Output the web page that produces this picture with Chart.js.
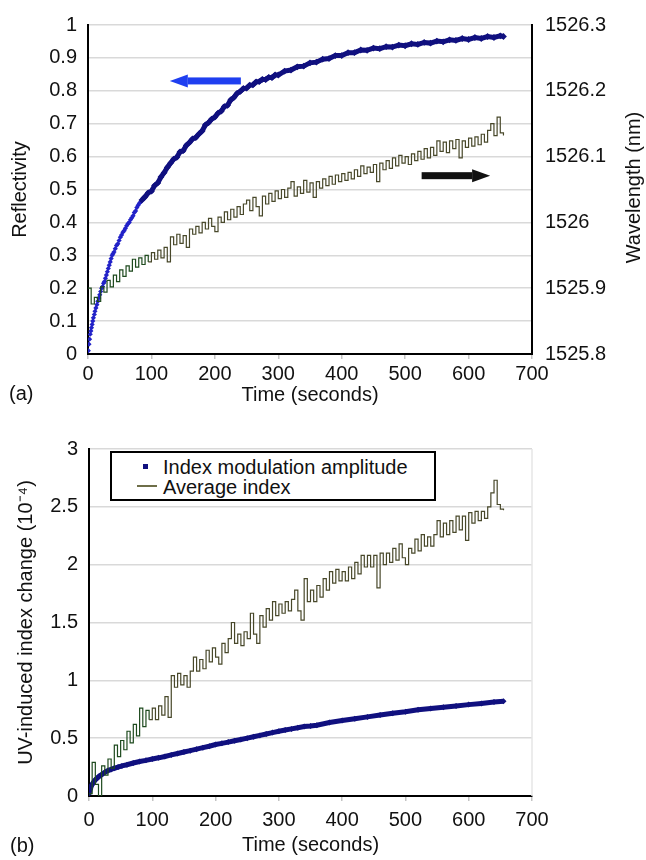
<!DOCTYPE html>
<html lang="en">
<head>
  <meta charset="UTF-8" />
  <title>Reflectivity and UV-induced index change</title>
  <script src="https://cdn.jsdelivr.net/npm/chart.js"></script>
  <style>
    body {
      margin: 0;
      background: #fff;
      font-family: 'Liberation Sans', Arial, sans-serif;
      color: #111;
    }
    .page {
      position: relative;
      width: 646px;
      height: 860px;
    }
    canvas {
      position: absolute;
      left: 0;
    }
    #chartA { top: 0; }
    #chartB { top: 410px; }
    .panel-label {
      position: absolute;
      font-size: 20px;
      line-height: 24px;
    }
    .legend {
      position: absolute;
      left: 110px;
      top: 451px;
      width: 322px;
      height: 46px;
      border: 2px solid #000;
      background: #fff;
    }
    .legend-item {
      position: absolute;
      left: 51px;
      font-size: 20px;
      line-height: 24px;
      white-space: nowrap;
    }
    .legend-mark {
      position: absolute;
    }
  </style>
</head>
<body>
  <div class="page">
    <canvas id="chartA" width="646" height="410"></canvas>
    <canvas id="chartB" width="646" height="450"></canvas>
    <div class="panel-label" style="left:9px; top:381px;">(a)</div>
    <div class="panel-label" style="left:10px; top:833px;">(b)</div>
    <div class="legend" id="legendB"></div>
  </div>

  <script>
    // --- data ---
    const timeTicks = [0, 100, 200, 300, 400, 500, 600, 700];
    const reflTicks = [0, 0.1, 0.2, 0.3, 0.4, 0.5, 0.6, 0.7, 0.8, 0.9, 1];
    const waveTicks = [1525.8, 1525.9, 1526, 1526.1, 1526.2, 1526.3];
    const indexTicks = [0, 0.5, 1, 1.5, 2, 2.5, 3];

    // (a) reflectivity, early part shows separate markers
    const tReflDots = [0.5, 1.5, 2.5, 3.5, 4.5, 5.5, 6.5, 7.5, 8.5, 10, 11, 12.5, 14, 15.5, 17, 18.5, 20, 21.5, 23, 24.5,
      26, 27.5, 29, 30.5, 32, 33.5, 35, 36.5, 38, 39.5, 41, 43, 45, 47, 49, 51, 53, 55, 57, 59,
      61, 63, 65, 67, 69, 71, 73, 75, 77, 79, 81, 83, 85, 87];
    const reflDots = [0.01, 0.03, 0.045, 0.06, 0.07, 0.08, 0.09, 0.1, 0.11, 0.12, 0.13, 0.14, 0.15, 0.16, 0.17, 0.18, 0.19, 0.2, 0.205, 0.215,
      0.22, 0.23, 0.24, 0.25, 0.26, 0.27, 0.28, 0.29, 0.3, 0.305, 0.31, 0.32, 0.33, 0.335, 0.345, 0.355, 0.362, 0.37, 0.375, 0.382,
      0.39, 0.396, 0.4, 0.408, 0.414, 0.42, 0.43, 0.435, 0.445, 0.452, 0.458, 0.462, 0.468, 0.473];

    // (a) reflectivity, later part merges into a thick band
    const tRefl = [85, 90, 95, 100, 105, 110, 115, 120, 125, 130, 135, 140, 145, 150, 155, 160, 165, 170, 175, 180,
      185, 190, 195, 200, 205, 210, 215, 220, 225, 230, 235, 240, 245, 250, 255, 260, 265, 270, 275, 280,
      285, 290, 295, 300, 310, 320, 330, 340, 350, 360, 370, 380, 390, 400, 410, 420, 430, 440, 450, 460,
      470, 480, 490, 500, 510, 520, 530, 540, 550, 560, 570, 580, 590, 600, 610, 620, 630, 640, 650, 655];
    const refl = [0.468, 0.478, 0.49, 0.495, 0.512, 0.52, 0.538, 0.551, 0.567, 0.58, 0.592, 0.598, 0.614, 0.618, 0.634, 0.643, 0.654, 0.658, 0.669, 0.678,
      0.696, 0.703, 0.714, 0.72, 0.732, 0.738, 0.752, 0.756, 0.772, 0.78, 0.792, 0.798, 0.807, 0.808, 0.817, 0.818, 0.827, 0.828, 0.835, 0.834,
      0.841, 0.84, 0.848, 0.848, 0.86, 0.863, 0.873, 0.875, 0.885, 0.887, 0.896, 0.898, 0.907, 0.907, 0.916, 0.916, 0.924, 0.923, 0.93, 0.928,
      0.934, 0.933, 0.939, 0.937, 0.943, 0.941, 0.947, 0.945, 0.951, 0.949, 0.955, 0.953, 0.959, 0.956, 0.962, 0.959, 0.965, 0.962, 0.967, 0.965];

    // sample times of the two noisy step traces
    const tStep = [0, 5, 10, 15, 20, 25, 30, 35, 40, 45, 50, 55, 60, 65, 70, 75, 80, 85, 90, 95,
      100, 105, 110, 115, 120, 125, 130, 135, 140, 145, 150, 155, 160, 165, 170, 175, 180, 185, 190, 195,
      200, 205, 210, 215, 220, 225, 230, 235, 240, 245, 250, 255, 260, 265, 270, 275, 280, 285, 290, 295,
      300, 305, 310, 315, 320, 325, 330, 335, 340, 345, 350, 355, 360, 365, 370, 375, 380, 385, 390, 395,
      400, 405, 410, 415, 420, 425, 430, 435, 440, 445, 450, 455, 460, 465, 470, 475, 480, 485, 490, 495,
      500, 505, 510, 515, 520, 525, 530, 535, 540, 545, 550, 555, 560, 565, 570, 575, 580, 585, 590, 595,
      600, 605, 610, 615, 620, 625, 630, 635, 640, 645, 650, 655];

    // (a) Bragg wavelength, nm (right axis)
    const wavelength = [1525.900, 1525.876, 1525.886, 1525.880, 1525.902, 1525.894, 1525.912, 1525.902, 1525.920, 1525.910,
      1525.928, 1525.918, 1525.934, 1525.926, 1525.944, 1525.932, 1525.946, 1525.936, 1525.950, 1525.940,
      1525.954, 1525.944, 1525.958, 1525.946, 1525.962, 1525.940, 1525.978, 1525.966, 1525.982, 1525.968,
      1525.980, 1525.962, 1525.990, 1525.982, 1525.994, 1525.984, 1526.000, 1525.990, 1526.006, 1525.994,
      1525.986, 1526.008, 1526.000, 1526.016, 1526.004, 1526.020, 1526.008, 1526.024, 1526.012, 1526.028,
      1526.034, 1526.018, 1526.038, 1526.024, 1526.010, 1526.040, 1526.028, 1526.044, 1526.032, 1526.048,
      1526.036, 1526.050, 1526.038, 1526.052, 1526.062, 1526.040, 1526.054, 1526.044, 1526.064, 1526.046,
      1526.060, 1526.038, 1526.062, 1526.052, 1526.066, 1526.056, 1526.070, 1526.058, 1526.072, 1526.062,
      1526.074, 1526.064, 1526.076, 1526.066, 1526.080, 1526.070, 1526.086, 1526.074, 1526.084, 1526.076,
      1526.088, 1526.062, 1526.090, 1526.080, 1526.094, 1526.082, 1526.098, 1526.086, 1526.102, 1526.090,
      1526.100, 1526.088, 1526.104, 1526.094, 1526.108, 1526.096, 1526.112, 1526.098, 1526.114, 1526.102,
      1526.124, 1526.108, 1526.122, 1526.106, 1526.124, 1526.112, 1526.126, 1526.098, 1526.124, 1526.114,
      1526.128, 1526.116, 1526.130, 1526.118, 1526.134, 1526.122, 1526.140, 1526.150, 1526.132, 1526.160,
      1526.136, 1526.132];

    // (b) average index change, 1e-4
    const avgIndex = [0.02, 0.29, 0.10, 0.00, 0.26, 0.18, 0.32, 0.24, 0.44, 0.34,
      0.48, 0.40, 0.56, 0.46, 0.62, 0.52, 0.76, 0.60, 0.74, 0.66,
      0.76, 0.66, 0.78, 0.70, 0.86, 0.68, 1.04, 0.94, 1.06, 0.96,
      1.04, 0.94, 1.08, 1.20, 1.08, 1.18, 1.10, 1.26, 1.16, 1.28,
      1.20, 1.14, 1.32, 1.24, 1.36, 1.50, 1.32, 1.40, 1.30, 1.42,
      1.36, 1.58, 1.40, 1.32, 1.56, 1.46, 1.62, 1.52, 1.68, 1.56,
      1.66, 1.58, 1.68, 1.60, 1.70, 1.78, 1.60, 1.52, 1.88, 1.68,
      1.78, 1.68, 1.82, 1.72, 1.88, 1.78, 1.94, 1.84, 1.96, 1.86,
      1.94, 1.86, 1.98, 1.88, 2.02, 1.92, 2.08, 1.98, 2.08, 1.98,
      2.08, 1.80, 2.10, 2.00, 2.10, 2.02, 2.14, 2.04, 2.18, 2.06,
      2.00, 2.14, 2.10, 2.22, 2.12, 2.26, 2.16, 2.24, 2.16, 2.26,
      2.38, 2.24, 2.36, 2.26, 2.38, 2.28, 2.42, 2.30, 2.42, 2.21,
      2.45, 2.36, 2.46, 2.38, 2.46, 2.40, 2.50, 2.62, 2.73, 2.52,
      2.48, 2.47];

    // (b) index modulation amplitude, 1e-4
    const tMod = [0, 2, 4, 6, 8, 10, 13, 16, 20, 25, 30, 35, 40, 46, 52, 60, 70, 80, 90, 100,
      110, 120, 130, 140, 150, 160, 170, 180, 190, 200, 210, 220, 230, 240, 250, 260, 270, 280, 290, 300,
      310, 320, 330, 340, 350, 360, 380, 400, 420, 440, 460, 480, 500, 520, 540, 560, 580, 600, 620, 640, 655];
    const modAmp = [0.02, 0.06, 0.09, 0.11, 0.125, 0.14, 0.155, 0.17, 0.185, 0.205, 0.22, 0.23, 0.24, 0.25, 0.26, 0.27, 0.285, 0.298, 0.308, 0.32,
      0.33, 0.342, 0.355, 0.367, 0.38, 0.392, 0.405, 0.418, 0.43, 0.445, 0.455, 0.466, 0.478, 0.489, 0.5, 0.512, 0.524, 0.536, 0.548, 0.56,
      0.57, 0.58, 0.59, 0.6, 0.605, 0.612, 0.635, 0.652, 0.668, 0.684, 0.7, 0.715, 0.728, 0.745, 0.757, 0.767, 0.778, 0.79, 0.8, 0.812, 0.82];

    // arrows in panel (a): [time, reflectivity] of tail and tip
    const arrowLeft = { from: [241, 0.83], to: [129, 0.83], color: '#1f3ff0' };
    const arrowRight = { from: [526, 0.542], to: [634, 0.542], color: '#111' };

    const pts = (xs, ys) => xs.map((x, i) => ({ x: x, y: ys[i] }));
    const fmt = v => String(Math.round(v * 10) / 10);

    Chart.defaults.font.family = "'Liberation Sans', Arial, sans-serif";
    Chart.defaults.font.size = 20;
    Chart.defaults.color = '#111';

    const stepColor = ctx => ctx.p0.parsed.x < 95 ? '#1e4a1e' : '#48482a';

    function timeAxis(height, labelPad) {
      return {
        type: 'linear',
        min: 0,
        max: 700,
        afterBuildTicks: s => { s.ticks = timeTicks.map(v => ({ value: v })); },
        ticks: { padding: labelPad, maxRotation: 0 },
        grid: { drawOnChartArea: false, drawTicks: true, tickLength: 5, color: '#c4c4c4', lineWidth: 1.5 },
        border: { color: '#000', width: 2 },
        title: { display: true, text: 'Time (seconds)', padding: { top: 0, bottom: 3 } },
        afterFit: s => { s.height = height; }
      };
    }

    const arrowPlugin = {
      id: 'arrows',
      afterDatasetsDraw(chart) {
        const { ctx, scales } = chart;
        [arrowLeft, arrowRight].forEach(a => {
          const x0 = scales.x.getPixelForValue(a.from[0]);
          const x1 = scales.x.getPixelForValue(a.to[0]);
          const y = scales.y.getPixelForValue(a.from[1]);
          const dir = x1 > x0 ? 1 : -1;
          const headLen = 18;
          ctx.save();
          ctx.fillStyle = a.color;
          ctx.fillRect(Math.min(x0, x1 - dir * headLen), y - 3.5, Math.abs(x1 - dir * headLen - x0), 7);
          ctx.beginPath();
          ctx.moveTo(x1, y);
          ctx.lineTo(x1 - dir * headLen, y - 6.5);
          ctx.lineTo(x1 - dir * headLen, y + 6.5);
          ctx.closePath();
          ctx.fill();
          ctx.restore();
        });
      },
      afterDraw(chart) {
        // right axis title reads bottom to top
        const { ctx, chartArea } = chart;
        ctx.save();
        ctx.translate(634, (chartArea.top + chartArea.bottom) / 2 - 2);
        ctx.rotate(-Math.PI / 2);
        ctx.font = "20px 'Liberation Sans', Arial, sans-serif";
        ctx.fillStyle = '#111';
        ctx.textAlign = 'center';
        ctx.textBaseline = 'middle';
        ctx.fillText('Wavelength (nm)', 0, 0);
        ctx.restore();
      }
    };

    // PANEL (a)
    new Chart(document.getElementById('chartA'), {
      type: 'scatter',
      data: {
        datasets: [
          {
            label: 'Wavelength',
            data: pts(tStep, wavelength),
            yAxisID: 'y2',
            showLine: true,
            stepped: true,
            borderWidth: 1.2,
            borderColor: '#48482a',
            segment: { borderColor: stepColor },
            pointRadius: 0
          },
          {
            label: 'Reflectivity',
            data: pts(tRefl, refl),
            yAxisID: 'y',
            showLine: true,
            borderWidth: 5,
            borderColor: '#10107f',
            pointStyle: 'rectRot',
            pointRadius: 3.4,
            pointBorderWidth: 0,
            pointBackgroundColor: '#10107f'
          },
          {
            label: 'Reflectivity (early)',
            data: pts(tReflDots, reflDots),
            yAxisID: 'y',
            showLine: false,
            pointStyle: 'rectRot',
            pointRadius: 2.6,
            borderWidth: 0,
            backgroundColor: '#2222c8'
          }
        ]
      },
      options: {
        responsive: false,
        animation: false,
        layout: { padding: { top: 18, left: 0, right: 0, bottom: 0 } },
        plugins: { legend: { display: false }, tooltip: { enabled: false } },
        scales: {
          x: timeAxis(56, 3),
          y: {
            position: 'left',
            min: 0,
            max: 1,
            afterBuildTicks: s => { s.ticks = reflTicks.map(v => ({ value: v })); },
            ticks: { padding: 11, callback: fmt },
            grid: { color: '#d9d9d9', lineWidth: 1.5, drawTicks: false },
            border: { color: '#000', width: 2 },
            title: { display: true, text: 'Reflectivity', padding: { top: 8, bottom: 0 } },
            afterFit: s => { s.width = 88; }
          },
          y2: {
            position: 'right',
            min: 1525.8,
            max: 1526.3,
            afterBuildTicks: s => { s.ticks = waveTicks.map(v => ({ value: v })); },
            ticks: { padding: 13, callback: fmt },
            grid: { drawOnChartArea: false, drawTicks: false },
            border: { color: '#000', width: 2 },
            afterFit: s => { s.width = 114; }
          }
        }
      },
      plugins: [arrowPlugin]
    });

    // PANEL (b)
    const rightEdge = {
      id: 'rightEdge',
      beforeDatasetsDraw(chart) {
        const { ctx, chartArea } = chart;
        ctx.save();
        ctx.strokeStyle = '#e6e6e6';
        ctx.lineWidth = 1.5;
        ctx.beginPath();
        ctx.moveTo(chartArea.right, chartArea.top);
        ctx.lineTo(chartArea.right, chartArea.bottom);
        ctx.stroke();
        ctx.restore();
      }
    };

    const chartB = new Chart(document.getElementById('chartB'), {
      type: 'scatter',
      data: {
        datasets: [
          {
            label: 'Average index',
            data: pts(tStep, avgIndex),
            showLine: true,
            stepped: true,
            borderWidth: 1.2,
            borderColor: '#5a5a34',
            segment: { borderColor: stepColor },
            pointRadius: 0
          },
          {
            label: 'Index modulation amplitude',
            data: pts(tMod, modAmp),
            showLine: true,
            borderWidth: 5,
            borderColor: '#10107f',
            backgroundColor: '#10107f',
            pointStyle: 'rectRot',
            pointRadius: 3,
            pointBorderWidth: 0
          }
        ]
      },
      options: {
        responsive: false,
        animation: false,
        layout: { padding: { top: 39, left: 0, right: 114, bottom: 0 } },
        plugins: { legend: { display: false }, tooltip: { enabled: false } },
        scales: {
          x: timeAxis(64, 7),
          y: {
            min: 0,
            max: 3,
            afterBuildTicks: s => { s.ticks = indexTicks.map(v => ({ value: v })); },
            ticks: { padding: 11, callback: fmt },
            grid: { color: '#d9d9d9', lineWidth: 1.5, drawTicks: false },
            border: { color: '#000', width: 2 },
            title: { display: true, text: 'UV-induced index change (10\u207B\u2074)', padding: { top: 14, bottom: 0 } },
            afterFit: s => { s.width = 89; }
          }
        }
      },
      plugins: [rightEdge]
    });

    // legend for panel (b), marker series first
    const legendB = document.getElementById('legendB');
    [chartB.data.datasets[1], chartB.data.datasets[0]].forEach((ds, i) => {
      const item = document.createElement('div');
      item.className = 'legend-item';
      item.style.top = (2 + i * 20) + 'px';
      item.textContent = ds.label;
      legendB.appendChild(item);

      const mark = document.createElement('span');
      mark.className = 'legend-mark';
      if (i === 0) {
        mark.style.left = '31px';
        mark.style.top = '11px';
        mark.style.width = '5px';
        mark.style.height = '5px';
        mark.style.background = ds.borderColor;
      } else {
        mark.style.left = '25px';
        mark.style.top = '32px';
        mark.style.width = '20px';
        mark.style.height = '1.5px';
        mark.style.background = '#6e6e48';
      }
      legendB.appendChild(mark);
    });
  </script>
</body>
</html>
